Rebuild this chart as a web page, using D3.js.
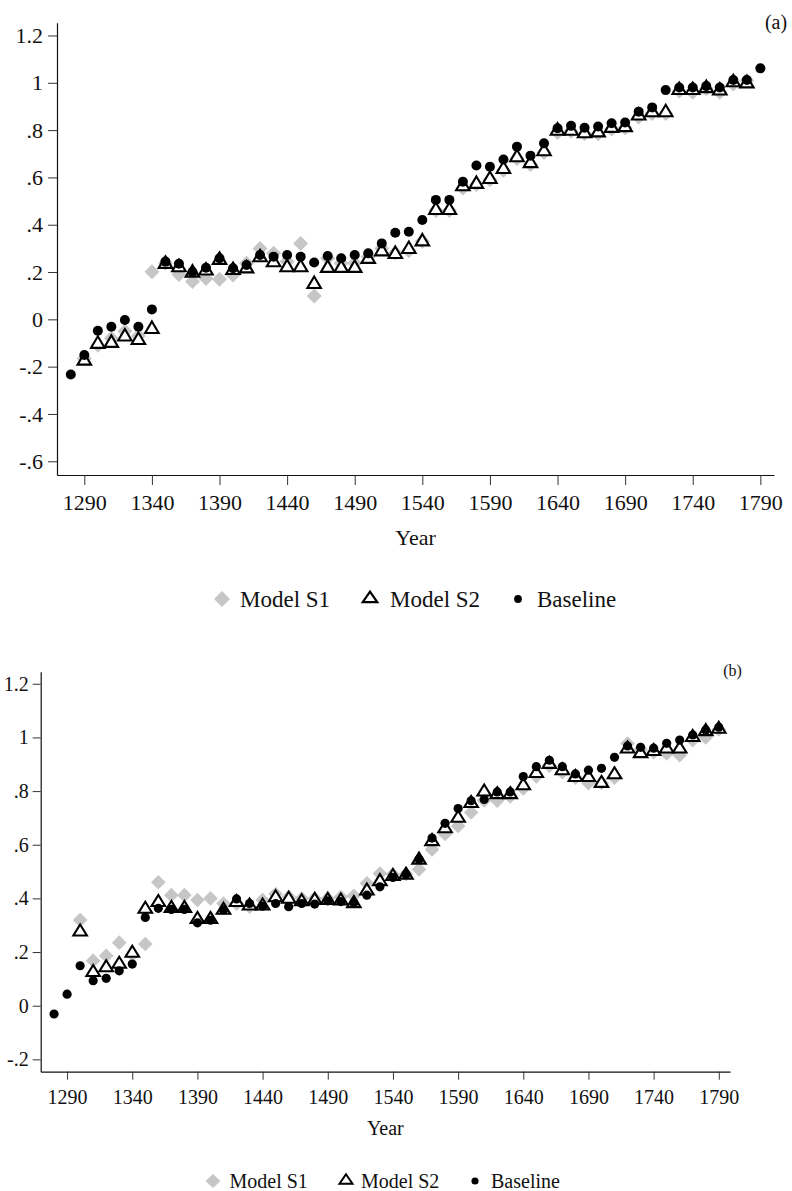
<!DOCTYPE html>
<html>
<head>
<meta charset="utf-8">
<script src="https://cdn.jsdelivr.net/npm/d3@7/dist/d3.min.js"></script>
<style>
body { margin: 0; background: #fff; }
svg { display: block; }
text { font-family: "Liberation Serif", "Times New Roman", serif; fill: #111; }
</style>
</head>
<body>
<svg id="chart" width="792" height="1191"></svg>
<script>
// years observed (one point per decade)
var years = [1280,1290,1300,1310,1320,1330,1340,1350,1360,1370,1380,1390,1400,1410,1420,1430,1440,1450,1460,1470,
	1480,1490,1500,1510,1520,1530,1540,1550,1560,1570,1580,1590,1600,1610,1620,1630,1640,1650,1660,1670,
	1680,1690,1700,1710,1720,1730,1740,1750,1760,1770,1780,1790];

var xTicks = [1290,1340,1390,1440,1490,1540,1590,1640,1690,1740,1790];
var yTicksA = [-0.6,-0.4,-0.2,0,0.2,0.4,0.6,0.8,1,1.2];
var yTicksB = [-0.2,0,0.2,0.4,0.6,0.8,1,1.2];
var seriesNames = ["Model S1","Model S2","Baseline"];

// panel (a)
var baseA = [-0.233,-0.151,-0.048,-0.031,-0.003,-0.031,0.042,0.244,0.235,0.200,0.218,0.258,0.216,0.230,0.272,0.265,0.272,0.265,0.240,0.268,
	0.258,0.272,0.279,0.321,0.366,0.370,0.420,0.505,0.505,0.582,0.650,0.645,0.676,0.730,0.692,0.744,0.808,0.818,0.810,0.815,
	0.829,0.832,0.878,0.896,0.969,0.980,0.980,0.986,0.980,1.012,1.012,1.061];
var s2A = [null,-0.172,-0.101,-0.097,-0.070,-0.085,-0.038,0.237,0.223,0.200,0.209,0.254,0.211,0.218,0.265,0.244,0.223,0.223,0.152,0.220,
	0.220,0.220,0.258,0.290,0.279,0.300,0.332,0.465,0.465,0.565,0.575,0.596,0.638,0.688,0.663,0.713,0.800,0.800,0.789,0.793,
	0.812,0.815,0.864,0.878,0.878,0.972,0.972,0.980,0.970,1.005,1.000,null];
var s1A = [null,-0.165,-0.110,-0.080,-0.050,-0.070,0.201,0.237,0.190,0.160,0.173,0.170,0.187,0.237,0.300,0.279,0.244,0.321,0.099,0.258,
	0.237,0.237,0.265,0.300,0.280,0.290,0.330,0.460,0.460,0.555,0.570,0.590,0.630,0.680,0.655,0.705,0.790,0.795,0.785,0.785,
	0.805,0.810,0.855,0.870,0.870,0.965,0.960,0.975,0.960,0.995,1.010,null];

// panel (b)
var baseB = [-0.031,0.043,0.149,0.093,0.102,0.130,0.155,0.329,0.363,0.359,0.359,0.309,0.319,0.357,0.398,0.381,0.371,0.381,0.369,0.381,
	0.379,0.391,0.388,0.384,0.412,0.443,0.478,0.490,0.546,0.625,0.680,0.735,0.764,0.769,0.797,0.797,0.854,0.891,0.915,0.891,
	0.864,0.878,0.885,0.926,0.968,0.963,0.960,0.978,0.990,1.009,1.028,1.038];
var s2B = [null,null,0.278,0.127,0.145,0.158,0.199,0.363,0.388,0.366,0.366,0.325,0.325,0.359,0.388,0.375,0.375,0.406,0.400,0.391,
	0.396,0.396,0.394,0.384,0.431,0.466,0.485,0.490,0.546,0.615,0.663,0.702,0.757,0.800,0.790,0.790,0.823,0.869,0.903,0.879,
	0.854,0.854,0.832,0.864,0.960,0.943,0.951,0.960,0.960,1.003,1.025,1.034];
var s1B = [null,null,0.319,0.168,0.186,0.235,0.190,0.230,0.460,0.412,0.412,0.394,0.400,0.381,0.380,0.369,0.394,0.416,0.406,0.400,
	0.400,0.400,0.405,0.410,0.456,0.493,0.490,0.490,0.508,0.582,0.640,0.670,0.720,0.765,0.764,0.780,0.810,0.855,0.895,0.870,
	0.850,0.829,0.830,0.850,0.977,0.955,0.945,0.940,0.934,0.990,1.000,1.030];

var svg = d3.select("#chart");

function fmtY(d){
	if (Math.abs(d) < 1e-9) return "0";
	return String(+d.toFixed(1)).replace(/^(-?)0\./, "$1.");
}

// marker shapes
function diamondPath(w, h){ return "M0," + (-h) + "L" + w + ",0L0," + h + "L" + (-w) + ",0Z"; }
function trianglePath(w, h){
	return "M0," + (-h*0.6) + "L" + (w/2) + "," + (h*0.4) + "L" + (-w/2) + "," + (h*0.4) + "Z";
}

function styleAxis(a, fs){
	a.selectAll("text").style("font-size", fs + "px").attr("fill", "#111");
	a.selectAll("line").attr("stroke", "#333");
	a.select(".domain").attr("stroke", "#111").attr("stroke-width", 1.2);
}

function drawPanel(p){
	var x = d3.scaleLinear().domain(p.xDom).range([p.left, p.right]);
	var y = d3.scaleLinear().domain(p.yDom).range([p.bottom, p.top]);
	var g = svg.append("g");

	var yAxis = d3.axisLeft(y).tickValues(p.yTicks).tickFormat(fmtY)
		.tickSize(p.tick).tickSizeOuter(0).tickPadding(p.yPad);
	g.append("g").attr("transform", "translate(" + p.left + ",0)").call(yAxis)
		.call(function(a){ styleAxis(a, p.fs); });

	var xAxis = d3.axisBottom(x).tickValues(xTicks).tickFormat(d3.format("d"))
		.tickSize(p.xTick).tickSizeOuter(0).tickPadding(p.xPad);
	g.append("g").attr("transform", "translate(0," + p.bottom + ")").call(xAxis)
		.call(function(a){ styleAxis(a, p.fs); });

	g.append("text").attr("x", (p.left + p.right) / 2).attr("y", p.yearY)
		.attr("text-anchor", "middle").style("font-size", p.fs + "px").text("Year");
	g.append("text").attr("x", p.tagX).attr("y", p.tagY)
		.attr("text-anchor", "middle").style("font-size", p.tagFs + "px").text(p.tag);

	var pts = years.map(function(yr, i){
		return {year: yr, s1: p.s1[i], s2: p.s2[i], base: p.base[i]};
	});

	// Model S1 below, Model S2 above it, Baseline on top
	g.append("g").selectAll("path").data(pts.filter(function(d){ return d.s1 !== null; }))
		.enter().append("path")
		.attr("d", diamondPath(p.dia, p.dia))
		.attr("transform", function(d){ return "translate(" + x(d.year) + "," + y(d.s1) + ")"; })
		.attr("fill", "#c6c6c6");

	g.append("g").selectAll("path").data(pts.filter(function(d){ return d.s2 !== null; }))
		.enter().append("path")
		.attr("d", trianglePath(p.triW, p.triH))
		.attr("transform", function(d){ return "translate(" + x(d.year) + "," + y(d.s2) + ")"; })
		.attr("fill", "#fff").attr("stroke", "#000").attr("stroke-width", 2.1);

	g.append("g").selectAll("circle").data(pts.filter(function(d){ return d.base !== null; }))
		.enter().append("circle")
		.attr("cx", function(d){ return x(d.year); })
		.attr("cy", function(d){ return y(d.base); })
		.attr("r", p.dot).attr("fill", "#000");

	// legend
	var lg = g.append("g").attr("transform", "translate(0," + p.legY + ")");
	lg.append("path").attr("d", diamondPath(p.legDia[0], p.legDia[1]))
		.attr("transform", "translate(" + p.leg[0] + ",0)").attr("fill", "#c6c6c6");
	lg.append("path").attr("d", trianglePath(p.legTri[0], p.legTri[1]))
		.attr("transform", "translate(" + p.leg[2] + ",-1)")
		.attr("fill", "none").attr("stroke", "#000").attr("stroke-width", p.legTri[2]);
	lg.append("circle").attr("cx", p.leg[4]).attr("cy", 0).attr("r", p.legDot).attr("fill", "#000");
	seriesNames.forEach(function(name, i){
		lg.append("text").attr("x", p.leg[2*i + 1]).attr("y", 0).attr("dy", "0.34em")
			.style("font-size", p.legFs + "px").text(name);
	});
}

drawPanel({
	left: 57, right: 774, top: 22.7, bottom: 475,
	xDom: [1269.8, 1800.1], yDom: [-0.658, 1.254],
	yTicks: yTicksA, fs: 22, tick: 9, xTick: 10, yPad: 5, xPad: 9.5,
	yearY: 545, tag: "(a)", tagX: 776, tagY: 29, tagFs: 20,
	legY: 599, legFs: 23, leg: [222, 240, 370, 390, 518, 537],
	legDia: [8, 8], legTri: [14.5, 10.5, 2.2], legDot: 3.9,
	dia: 7.5, triW: 13.5, triH: 11.5, dot: 5,
	base: baseA, s1: s1A, s2: s2A
});

drawPanel({
	left: 40.7, right: 730, top: 671.7, bottom: 1071.7,
	xDom: [1269.75, 1798.6], yDom: [-0.246, 1.245],
	yTicks: yTicksB, fs: 20, tick: 8, xTick: 8, yPad: 4, xPad: 10,
	yearY: 1135, tag: "(b)", tagX: 732.5, tagY: 676, tagFs: 16,
	legY: 1181, legFs: 20, leg: [213, 229.5, 346, 361, 475, 491],
	legDia: [7.5, 7], legTri: [13, 9.5, 2], legDot: 3.6,
	dia: 7.3, triW: 13.5, triH: 11, dot: 4.6,
	base: baseB, s1: s1B, s2: s2B
});
</script>
</body>
</html>
